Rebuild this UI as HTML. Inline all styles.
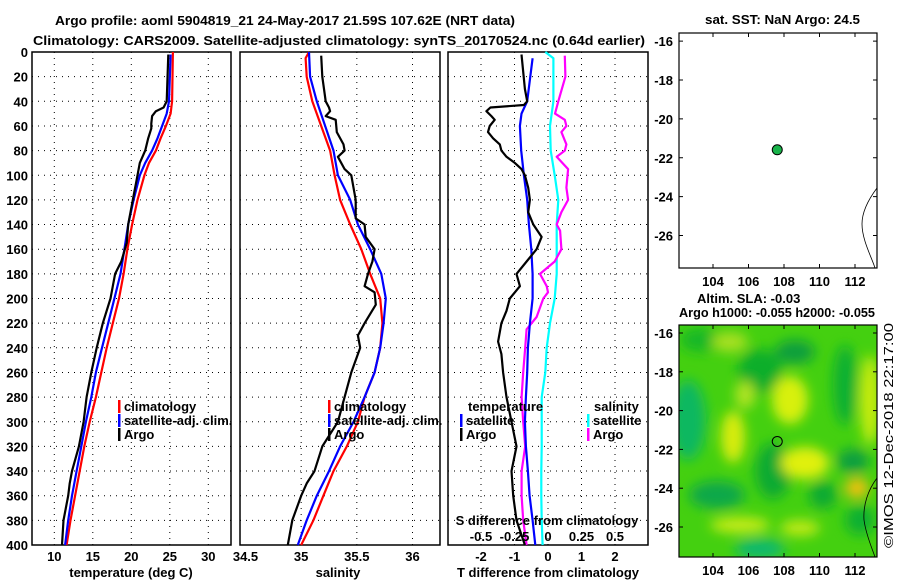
<!DOCTYPE html>
<html><head><meta charset="utf-8"><style>
html,body{margin:0;padding:0;background:#fff;}
svg{display:block;font-family:"Liberation Sans",sans-serif;}
text{font-weight:bold;font-size:13px;fill:#000;}
</style></head><body>
<svg id="c" width="900" height="580" viewBox="0 0 900 580" xmlns="http://www.w3.org/2000/svg">
<defs>
<filter id="bl" x="-20%" y="-20%" width="140%" height="140%"><feGaussianBlur stdDeviation="6"/></filter>
<clipPath id="m2clip"><rect x="679" y="325" width="198" height="232"/></clipPath>
</defs>
<text x="55" y="25" textLength="460" lengthAdjust="spacingAndGlyphs" font-size="14">Argo profile: aoml 5904819_21 24-May-2017 21.59S 107.62E (NRT data)</text>
<text x="33" y="45" textLength="612" lengthAdjust="spacingAndGlyphs" font-size="14">Climatology: CARS2009. Satellite-adjusted climatology: synTS_20170524.nc (0.64d earlier)</text>
<text x="705" y="24" textLength="155" lengthAdjust="spacingAndGlyphs" font-size="13">sat. SST: NaN Argo: 24.5</text>
<text x="697" y="303" font-size="12">Altim. SLA: -0.03</text>
<text x="679" y="317" textLength="196" lengthAdjust="spacingAndGlyphs" font-size="12">Argo h1000: -0.055 h2000: -0.055</text>
<text transform="translate(893,548) rotate(-90)" font-size="12" textLength="225" lengthAdjust="spacingAndGlyphs" style="font-weight:normal">©IMOS 12-Dec-2018 22:17:00</text>
<g id="plots"></g>
</svg>
<script>
// ---- data ----
const tClimD=[0,40,50,60,70,80,90,100,120,140,160,180,200,220,240,260,280,300,320,340,360,380,400];
const tClimV=[25.4,25.3,25.1,24.5,23.8,23.2,22.3,21.7,20.8,20.1,19.5,19.0,18.4,17.6,16.8,16.1,15.4,14.6,13.9,13.3,12.7,12.1,11.6];
const tSatD=[2,40,50,60,70,80,90,100,120,140,160,180,200,220,240,260,280,300,320,340,360,380,400];
const tSatV=[25.1,24.9,24.6,24.0,23.4,22.7,21.8,21.1,20.3,19.6,19.1,18.6,17.8,17.0,16.2,15.4,14.8,14.1,13.5,12.9,12.3,11.8,11.4];
const tArgoD=[2,40,45,48,52,58,62,70,80,90,100,120,140,155,170,180,190,200,220,240,260,280,300,320,340,350,360,380,400];
const tArgoV=[24.8,24.6,24.2,23.2,22.7,22.6,22.6,22.2,21.8,21.1,20.8,20.2,19.6,19.4,18.7,17.9,17.6,17.3,16.3,15.5,14.8,14.2,13.8,13.2,12.3,12.0,11.8,11.2,11.0];
const sClimD=[0,5,20,40,60,80,100,120,140,160,180,200,220,240,260,280,300,320,340,360,380,400];
const sClimV=[35.07,35.04,35.05,35.1,35.18,35.26,35.3,35.35,35.44,35.54,35.62,35.71,35.73,35.71,35.66,35.57,35.51,35.41,35.29,35.2,35.11,35.0];
const sSatD=[0,20,40,80,100,120,140,160,180,200,220,240,260,280,300,320,340,360,380,400];
const sSatV=[35.07,35.08,35.14,35.29,35.33,35.44,35.51,35.62,35.72,35.76,35.74,35.71,35.66,35.57,35.47,35.35,35.25,35.14,35.05,34.97];
const sArgoD=[3,20,40,45,48,52,55,65,75,80,85,95,100,120,135,140,150,160,170,180,190,195,205,220,230,240,260,280,300,320,340,350,360,380,400];
const sArgoV=[35.18,35.19,35.22,35.25,35.26,35.22,35.31,35.32,35.38,35.39,35.33,35.39,35.45,35.49,35.49,35.57,35.58,35.66,35.64,35.60,35.57,35.66,35.67,35.57,35.51,35.53,35.45,35.39,35.33,35.19,35.12,35.05,35.0,34.92,34.88];
const dtSatD=[5,40,50,60,80,100,120,140,160,180,200,220,240,260,280,300,320,340,360,380,400];
const dtSatV=[-0.46,-0.62,-0.79,-0.84,-0.8,-0.72,-0.62,-0.57,-0.5,-0.46,-0.46,-0.54,-0.6,-0.62,-0.66,-0.69,-0.66,-0.6,-0.55,-0.46,-0.38];
const dtArgoD=[2,30,40,43,45,48,52,55,60,65,70,75,80,85,90,95,100,110,120,130,140,150,160,170,180,190,200,210,220,235,245,260,280,300,320,340,360,380,400];
const dtArgoV=[-0.79,-0.69,-0.62,-0.72,-1.72,-1.84,-1.69,-1.59,-1.74,-1.79,-1.64,-1.44,-1.39,-1.24,-0.99,-0.79,-0.69,-0.59,-0.54,-0.59,-0.44,-0.19,-0.34,-0.64,-0.94,-0.84,-1.14,-1.24,-1.39,-1.49,-1.39,-1.34,-1.24,-1.09,-0.94,-1.09,-1.04,-0.94,-0.69];
const dsSatD=[0,5,40,60,80,100,120,140,160,180,200,220,240,260,280,300,320,340,360,380,400];
const dsSatV=[-0.02,0.04,0.04,0.015,0.02,0.05,0.077,0.065,0.065,0.065,0.05,0.015,-0.01,-0.02,-0.047,-0.047,-0.047,-0.05,-0.05,-0.047,-0.04];
const dsArgoD=[3,20,40,50,55,60,65,75,80,85,95,110,120,130,140,145,160,170,180,190,195,200,215,225,240,260,280,300,320,340,360,380,400];
const dsArgoV=[0.125,0.13,0.077,0.052,0.125,0.137,0.1,0.137,0.125,0.065,0.15,0.137,0.15,0.1,0.065,0.09,0.1,0.05,-0.06,-0.01,0.0,-0.035,-0.085,-0.16,-0.17,-0.185,-0.197,-0.185,-0.17,-0.197,-0.197,-0.185,-0.16];
const depthTicks=[0,20,40,60,80,100,120,140,160,180,200,220,240,260,280,300,320,340,360,380,400];
const tTicks=[10,15,20,25,30];
const sTicks=[34.5,35,35.5,36];
const dtTicks=[-2,-1,0,1,2];
const dsTicks=[-0.5,-0.25,0,0.25,0.5];
const dsTickLabels=["-0.5","-0.25","0","0.25","0.5"];
const lonTicks=[104,106,108,110,112];
const latTicks=[-16,-18,-20,-22,-24,-26];
const argoLon=[107.62];
const argoLat=[-21.59];

// ---- helpers ----
const NS="http://www.w3.org/2000/svg";
const root=document.getElementById('plots');
function mk(tag,attrs,parent){const e=document.createElementNS(NS,tag);for(const k in attrs)e.setAttribute(k,attrs[k]);(parent||root).appendChild(e);return e;}
const Y0=52,Y1=545;
const yD=d=>Y0+(d/400)*(Y1-Y0);
function lin(d0,d1,r0,r1){return v=>r0+(v-d0)/(d1-d0)*(r1-r0);}

function panel(name,x0,x1,xs,xticks,xlabels,grid){
  const g=mk('g',{});
  
  
  depthTicks.forEach(d=>{if(d>0&&d<400){const l=mk('line',{x1:x0,x2:x1,y1:yD(d),y2:yD(d),stroke:'#000','stroke-width':1,'stroke-dasharray':'1 5'},g);}});
  grid.forEach(v=>{const l=mk('line',{x1:xs(v),x2:xs(v),y1:Y0,y2:Y1,stroke:'#000','stroke-width':1,'stroke-dasharray':'1 5'},g);});
  const r=mk('rect',{x:x0,y:Y0,width:x1-x0,height:Y1-Y0,fill:'none',stroke:'#000','stroke-width':1.5},g);
  
  xticks.forEach((v,i)=>{const t=mk('text',{x:xs(v),y:561,'text-anchor':'middle','font-size':13},g);t.textContent=xlabels[i];});
  return g;
}
function line(g,name,xs,vals,deps,color,w){
  const p=mk('polyline',{points:vals.map((v,i)=>xs(v).toFixed(1)+','+yD(deps[i]).toFixed(1)).join(' '),fill:'none',stroke:color,'stroke-width':w||2.2,'stroke-linejoin':'round'},g);
  
}
function leg(g,x,y,color,label){
  const r=mk('rect',{x:x,y:y-11,width:2.5,height:13,fill:color},g);
  
  const t=mk('text',{x:x+6,y:y,'font-size':12},g);t.textContent=label;
  
}

depthTicks.forEach(d=>{const t=mk('text',{x:28,y:yD(d)+5,'text-anchor':'end','font-size':13});t.textContent=d;});

// panel 1 temperature
const xT=lin(10,30,54.3,208.3);
const g1=panel('temperature-panel',32,231,xT,tTicks,tTicks.map(String),tTicks);
line(g1,'temp-climatology-line',xT,tClimV,tClimD,'#ff0000');
line(g1,'temp-satellite-line',xT,tSatV,tSatD,'#0000ff');
line(g1,'temp-argo-line',xT,tArgoV,tArgoD,'#000');
leg(g1,118,411,'#ff0000','climatology');leg(g1,118,425,'#0000ff','satellite-adj. clim.');leg(g1,118,439,'#000','Argo');
let t=mk('text',{x:131,y:577,'text-anchor':'middle','font-size':13},g1);t.textContent='temperature (deg C)';

// panel 2 salinity
const xS=lin(34.5,36,245.5,412.5);
const g2=panel('salinity-panel',240,440,xS,sTicks,sTicks.map(String),[35,35.5,36]);
line(g2,'sal-climatology-line',xS,sClimV,sClimD,'#ff0000');
line(g2,'sal-satellite-line',xS,sSatV,sSatD,'#0000ff');
line(g2,'sal-argo-line',xS,sArgoV,sArgoD,'#000');
leg(g2,328,411,'#ff0000','climatology');leg(g2,328,425,'#0000ff','satellite-adj. clim.');leg(g2,328,439,'#000','Argo');
t=mk('text',{x:338,y:577,'text-anchor':'middle','font-size':13},g2);t.textContent='salinity';

// panel 3 differences
const xDT=lin(-2,2,481,615);
const xDS=lin(-0.5,0.5,481,615);
const g3=panel('difference-panel',448,648,xDT,dtTicks,dtTicks.map(String),dtTicks);
line(g3,'ds-satellite-line',xDS,dsSatV,dsSatD,'#00ffff');
line(g3,'ds-argo-line',xDS,dsArgoV,dsArgoD,'#ff00ff');
line(g3,'dt-satellite-line',xDT,dtSatV,dtSatD,'#0000ff');
line(g3,'dt-argo-line',xDT,dtArgoV,dtArgoD,'#000');
dsTicks.forEach((v,i)=>{const tt=mk('text',{x:xDS(v),y:541,'text-anchor':'middle','font-size':12},g3);tt.textContent=dsTickLabels[i];});
t=mk('text',{x:547,y:525,'text-anchor':'middle','font-size':12},g3);t.textContent='S difference from climatology';
t=mk('text',{x:468,y:411,'font-size':12},g3);t.textContent='temperature';
t=mk('text',{x:594,y:411,'font-size':12},g3);t.textContent='salinity';
leg(g3,460,425,'#0000ff','satellite');leg(g3,460,439,'#000','Argo');
leg(g3,587,425,'#00ffff','satellite');leg(g3,587,439,'#ff00ff','Argo');
t=mk('text',{x:548,y:577,'text-anchor':'middle','font-size':13},g3);t.textContent='T difference from climatology';

// maps
const lonX=lin(104,112,713,855);
function mapFrame(name,yTop,yBot,latY,fill){
  const g=mk('g',{});
  
  if(fill) fill(g);
  const r=mk('rect',{x:679,y:yTop,width:198,height:yBot-yTop,fill:'none',stroke:'#000','stroke-width':1.2},g);
  
  lonTicks.forEach(v=>{
    mk('line',{x1:lonX(v),x2:lonX(v),y1:yBot,y2:yBot-4,stroke:'#000'},g);
    mk('line',{x1:lonX(v),x2:lonX(v),y1:yTop,y2:yTop+4,stroke:'#000'},g);
    const tt=mk('text',{x:lonX(v),y:yBot+18,'text-anchor':'middle','font-size':13},g);tt.textContent=v;});
  latTicks.forEach(v=>{
    mk('line',{x1:679,x2:683,y1:latY(v),y2:latY(v),stroke:'#000'},g);
    mk('line',{x1:877,x2:873,y1:latY(v),y2:latY(v),stroke:'#000'},g);
    const tt=mk('text',{x:673,y:latY(v)+5,'text-anchor':'end','font-size':13},g);tt.textContent=v;});
  return g;
}
const lat1=lin(-18,-26,80,235.5);
const m1=mapFrame('sst-map',33,268,lat1,null);
let cst=mk('path',{d:'M877,188 C868,200 862,212 862,224 C862,240 872,258 875,268',fill:'none',stroke:'#000','stroke-width':0.8},m1);

argoLon.forEach((lo,i)=>{const c=mk('circle',{cx:lonX(lo),cy:lat1(argoLat[i]),r:5,fill:'#19b34a',stroke:'#000','stroke-width':1},m1);});

const lat2=lin(-16,-26,333,527);
const m2=mapFrame('sla-map',325,557,lat2,function(g){
  const gg=mk('g',{'clip-path':'url(#m2clip)'},g);
  mk('rect',{x:679,y:325,width:198,height:232,fill:'#44d010'},gg);
  const bf=mk('g',{filter:'url(#bl)'},gg);
  // dark green regions
  [[688,420,18,40,'#10b860'],[760,371,22,22,'#0aae2a'],[795,352,20,12,'#0a9f3c'],[773,471,18,28,'#08aa30'],[717,495,28,14,'#10a848'],[853,461,16,12,'#0c9f40'],[823,495,14,14,'#0caa30'],[760,549,25,10,'#10b870'],[845,385,12,40,'#10b030'],[700,340,20,12,'#18b828'],[860,520,15,15,'#10b030']].forEach(a=>mk('ellipse',{cx:a[0],cy:a[1],rx:a[2],ry:a[3],fill:a[4]},bf));
  // yellow regions
  [[790,400,18,24,'#d8f010'],[733,437,12,26,'#d8ec10'],[805,463,24,16,'#e0f010'],[870,400,10,45,'#c8ec10'],[857,488,12,10,'#f0c010'],[740,525,30,8,'#c8ec18'],[800,528,20,8,'#c0ea18'],[730,342,18,10,'#a8e020'],[745,395,10,14,'#b0e420']].forEach(a=>mk('ellipse',{cx:a[0],cy:a[1],rx:a[2],ry:a[3],fill:a[4]},bf));
});
cst=mk('path',{d:'M877,478 C868,490 863,505 864,520 C866,535 872,548 875,557',fill:'none',stroke:'#000','stroke-width':0.8},m2);

argoLon.forEach((lo,i)=>{const c=mk('circle',{cx:lonX(lo),cy:lat2(argoLat[i]),r:5,fill:'none',stroke:'#000','stroke-width':1},m2);});
</script>
</body></html>
